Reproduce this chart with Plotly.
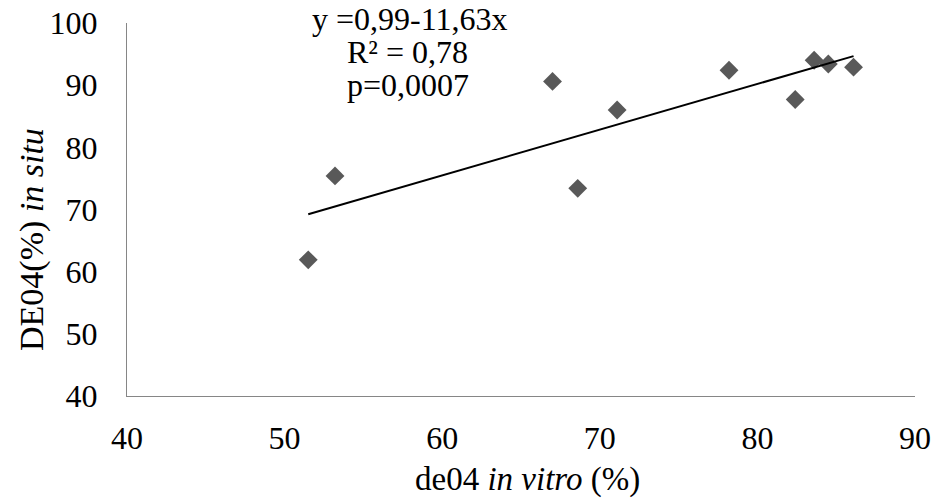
import numpy as np
import plotly.graph_objects as go

# Data
de04_in_vitro = [51.5, 53.2, 67.0, 68.6, 71.1, 78.2, 82.4, 83.6, 84.5, 86.1]
DE04_in_situ = [61.9, 75.4, 90.6, 73.4, 86.0, 92.4, 87.7, 94.0, 93.4, 92.9]

x_ticks = [40, 50, 60, 70, 80, 90]
y_ticks = [40, 50, 60, 70, 80, 90, 100]

eq_lines = ["y =0,99-11,63x", "R² = 0,78", "p=0,0007"]

# Linear trendline (least squares) from the data
slope, intercept = np.polyfit(de04_in_vitro, DE04_in_situ, 1)
tx = [min(de04_in_vitro), max(de04_in_vitro)]
ty = [slope * v + intercept for v in tx]

FONT = "Liberation Serif, Times New Roman, serif"
L, R, T, B = 127, 29, 23, 103
PW, PH = 944 - L - R, 499 - T - B


def px(xp):
    return (xp - L) / PW


def py(yp):
    return (499 - B - yp) / PH


fig = go.Figure()
fig.add_trace(go.Scatter(
    x=de04_in_vitro, y=DE04_in_situ, mode="markers",
    marker=dict(symbol="diamond", size=14.5, color="#595959", line=dict(width=0)),
    showlegend=False, hoverinfo="x+y"))
fig.add_trace(go.Scatter(
    x=tx, y=ty, mode="lines", line=dict(color="black", width=2),
    showlegend=False, hoverinfo="skip"))

fig.update_layout(
    width=944, height=499,
    margin=dict(l=L, r=R, t=T, b=B, autoexpand=False),
    paper_bgcolor="white", plot_bgcolor="white",
    font=dict(family=FONT, size=32, color="black"),
    xaxis=dict(range=[40, 90], tickvals=x_ticks, showgrid=False, zeroline=False,
               showline=True, linecolor="#868686", linewidth=1.3, automargin=False,
               ticks="outside", ticklen=13, tickcolor="rgba(0,0,0,0)",
               tickfont=dict(family=FONT, size=32)),
    yaxis=dict(range=[40, 100], tickvals=y_ticks, showgrid=False, zeroline=False,
               showline=True, linecolor="#868686", linewidth=1.3, automargin=False,
               ticks="outside", ticklen=22, tickcolor="rgba(0,0,0,0)",
               tickfont=dict(family=FONT, size=32)),
)

# equation text (one annotation per line to control line spacing)
eq_px = [410, 407, 408]
eq_py = [19, 52, 85]
for t, xv, yv in zip(eq_lines, eq_px, eq_py):
    fig.add_annotation(x=px(xv), y=py(yv), xref="paper", yref="paper", text=t,
                       showarrow=False, xanchor="center", yanchor="middle",
                       font=dict(family=FONT, size=32, color="black"))

# axis titles
fig.add_annotation(x=px(527), y=py(479), xref="paper", yref="paper",
                   text="de04 <i>in vitro</i> (%)", showarrow=False,
                   xanchor="center", yanchor="middle",
                   font=dict(family=FONT, size=33, color="black"))
fig.add_annotation(x=px(32), y=py(240), xref="paper", yref="paper",
                   text="DE04(%) <i>in situ</i>", showarrow=False, textangle=-90,
                   xanchor="center", yanchor="middle",
                   font=dict(family=FONT, size=34, color="black"))

fig.write_html("out.html")
